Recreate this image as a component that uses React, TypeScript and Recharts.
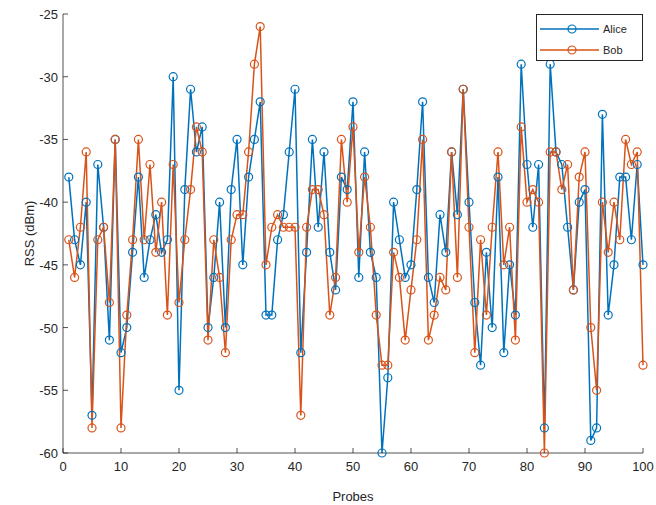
import { LineChart, Line, XAxis, YAxis, Legend } from "recharts";

const probes = Array.from({ length: 100 }, (_, i) => i + 1);

const alice = [
  -38, -43, -45, -40, -57, -37, -42, -51, -35, -52,
  -50, -44, -38, -46, -43, -41, -44, -43, -30, -55,
  -39, -31, -36, -34, -50, -46, -40, -50, -39, -35,
  -45, -38, -35, -32, -49, -49, -43, -41, -36, -31,
  -52, -44, -35, -42, -36, -44, -47, -38, -39, -32,
  -46, -36, -44, -46, -60, -54, -40, -43, -46, -45,
  -39, -32, -46, -48, -41, -44, -36, -41, -31, -40,
  -48, -53, -44, -50, -38, -52, -45, -49, -29, -37,
  -42, -37, -58, -29, -36, -37, -42, -47, -40, -39,
  -59, -58, -33, -49, -45, -38, -38, -43, -37, -45,
];

const bob = [
  -43, -46, -42, -36, -58, -43, -42, -48, -35, -58,
  -49, -43, -35, -43, -37, -44, -40, -49, -37, -48,
  -43, -39, -34, -36, -51, -43, -46, -52, -43, -41,
  -41, -36, -29, -26, -45, -42, -41, -42, -42, -42,
  -57, -42, -39, -39, -41, -49, -46, -35, -40, -34,
  -44, -38, -42, -49, -53, -53, -44, -46, -51, -47,
  -43, -35, -51, -49, -46, -47, -36, -46, -31, -42,
  -52, -43, -49, -42, -36, -45, -42, -51, -34, -40,
  -39, -40, -60, -36, -36, -39, -37, -47, -38, -36,
  -50, -55, -40, -44, -40, -43, -35, -37, -36, -53,
];

const xTicks = [0, 10, 20, 30, 40, 50, 60, 70, 80, 90, 100];
const yTicks = [-60, -55, -50, -45, -40, -35, -30, -25];

const series = [
  { key: "alice", name: "Alice", color: "#0072BD" },
  { key: "bob", name: "Bob", color: "#D95319" },
];

const data = probes.map((p, i) => ({ probe: p, alice: alice[i], bob: bob[i] }));

const AXIS = "#262626";
const FONT = "'Liberation Sans', Arial, sans-serif";

const BottomTick = ({ x, y, payload }: any) => (
  <g>
    <line x1={x} x2={x} y1={y} y2={y - 5} stroke={AXIS} strokeWidth={0.8} />
    <text x={x} y={y + 18} textAnchor="middle" fill={AXIS} fontSize={13} fontFamily={FONT}>
      {payload.value}
    </text>
  </g>
);

const LeftTick = ({ x, y, payload }: any) => (
  <g>
    <line x1={x} x2={x + 5} y1={y} y2={y} stroke={AXIS} strokeWidth={0.8} />
    <text x={x - 5} y={y + 5} textAnchor="end" fill={AXIS} fontSize={13} fontFamily={FONT}>
      {payload.value}
    </text>
  </g>
);

const TopTick = ({ x, y }: any) => (
  <line x1={x} x2={x} y1={y} y2={y + 5} stroke={AXIS} strokeWidth={0.8} />
);

const RightTick = ({ x, y }: any) => (
  <line x1={x} x2={x - 5} y1={y} y2={y} stroke={AXIS} strokeWidth={0.8} />
);

const renderLegend = () => (
  <div
    style={{
      width: 107,
      height: 47,
      boxSizing: "border-box",
      border: `1px solid ${AXIS}`,
      background: "#fff",
      paddingTop: 3,
      fontFamily: FONT,
      fontSize: 11,
      color: AXIS,
    }}
  >
    {series.map((s) => (
      <div key={s.key} style={{ display: "flex", alignItems: "center", height: 21 }}>
        <svg width={64} height={12} style={{ marginLeft: 2 }}>
          <line x1={1} x2={60} y1={6} y2={6} stroke={s.color} strokeWidth={1.5} />
          <circle cx={33} cy={6} r={4} fill="none" stroke={s.color} strokeWidth={1.2} />
        </svg>
        <span>{s.name}</span>
      </div>
    ))}
  </div>
);

export default function App() {
  return (
    <div style={{ position: "absolute", left: 0, top: 0, background: "#fff" }}>
      <LineChart width={656} height={505} data={data} margin={{ top: 14, right: 13, left: 0, bottom: 0 }}>
        <XAxis
          dataKey="probe"
          type="number"
          domain={[0, 100]}
          ticks={xTicks}
          height={52}
          tickSize={0}
          tickMargin={0}
          tick={<BottomTick />}
          axisLine={{ stroke: AXIS, strokeWidth: 0.8 }}
          label={{ value: "Probes", position: "insideBottom", offset: 4, fill: AXIS, fontSize: 13, fontFamily: FONT }}
        />
        <XAxis
          xAxisId="top"
          orientation="top"
          dataKey="probe"
          type="number"
          domain={[0, 100]}
          ticks={xTicks}
          height={0}
          tickSize={0}
          tickMargin={0}
          tick={<TopTick />}
          axisLine={{ stroke: AXIS, strokeWidth: 0.8 }}
        />
        <YAxis
          type="number"
          domain={[-60, -25]}
          ticks={yTicks}
          width={63}
          tickSize={0}
          tickMargin={0}
          tick={<LeftTick />}
          axisLine={{ stroke: AXIS, strokeWidth: 0.8 }}
          label={{ value: "RSS (dBm)", angle: -90, position: "center", dx: -2, fill: AXIS, fontSize: 13, fontFamily: FONT }}
        />
        <YAxis
          yAxisId="right"
          orientation="right"
          type="number"
          domain={[-60, -25]}
          ticks={yTicks}
          width={0}
          tickSize={0}
          tickMargin={0}
          tick={<RightTick />}
          axisLine={{ stroke: AXIS, strokeWidth: 0.8 }}
        />
        <Legend
          layout="vertical"
          align="center"
          verticalAlign="middle"
          content={renderLegend}
          wrapperStyle={{ top: 14, left: 536, width: 107, height: 47 }}
        />
        {series.map((s) => (
          <Line
            key={s.key}
            dataKey={s.key}
            name={s.name}
            stroke={s.color}
            strokeWidth={1.5}
            dot={{ r: 4, fill: "none", stroke: s.color, strokeWidth: 1.2 }}
            isAnimationActive={false}
          />
        ))}
      </LineChart>
    </div>
  );
}
